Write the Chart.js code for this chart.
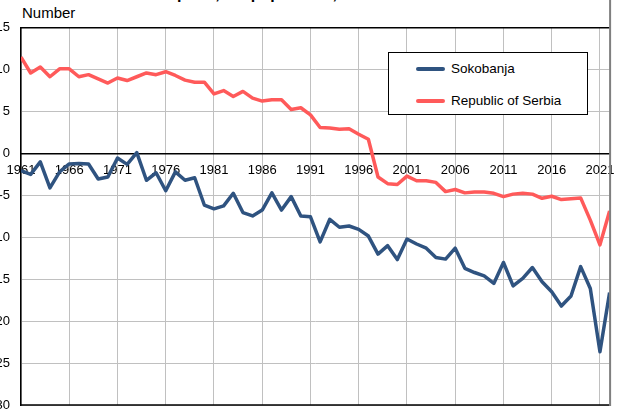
<!DOCTYPE html>
<html>
<head>
<meta charset="utf-8">
<script src="https://cdn.jsdelivr.net/npm/chart.js@4/dist/chart.umd.min.js"></script>
<style>
  html, body { margin:0; padding:0; background:#fff; width:619px; height:410px; overflow:hidden; position:relative; font-family:"Liberation Sans", Arial, sans-serif; }
  #c { position:absolute; left:-30px; top:0; }
  #title { position:absolute; left:48px; top:-14px; font-weight:bold; font-size:16px; line-height:16px; white-space:nowrap; color:#000; }
  #unit { position:absolute; left:22px; top:4.5px; font-size:15px; line-height:15px; color:#000; }
  #legend { position:absolute; left:388px; top:52px; width:200px; height:63px; border:1px solid #000; background:#fff; box-sizing:border-box; }
  .row { position:absolute; left:0; height:16px; line-height:16px; font-size:13.5px; color:#000; white-space:nowrap; }
  .sw { position:absolute; left:27px; top:6px; width:29px; height:4px; border-radius:2px; }
  .lt { position:absolute; left:62px; top:0; }
</style>
</head>
<body>
<div id="title">Natural increase per 1,000 population, 1961–2022</div>
<div id="unit">Number</div>
<canvas id="c" width="649" height="420" style="width:649px;height:420px"></canvas>
<div id="legend">
  <div class="row" style="top:8px"><span class="sw" style="background:#2f5380"></span><span class="lt">Sokobanja</span></div>
  <div class="row" style="top:40px"><span class="sw" style="background:#ff5a5a"></span><span class="lt">Republic of Serbia</span></div>
</div>
<script>
const years = [1961,1962,1963,1964,1965,1966,1967,1968,1969,1970,
  1971,1972,1973,1974,1975,1976,1977,1978,1979,1980,
  1981,1982,1983,1984,1985,1986,1987,1988,1989,1990,
  1991,1992,1993,1994,1995,1996,1997,1998,1999,2000,
  2001,2002,2003,2004,2005,2006,2007,2008,2009,2010,
  2011,2012,2013,2014,2015,2016,2017,2018,2019,2020,
  2021,2022];

const sokobanja = [-2.05,-2.5,-1.0,-4.1,-2.2,-1.25,-1.2,-1.25,-3.05,-2.8,
  -0.55,-1.3,0.1,-3.2,-2.3,-4.45,-2.2,-3.2,-2.9,-6.15,
  -6.6,-6.25,-4.75,-7.05,-7.45,-6.75,-4.7,-6.75,-5.15,-7.45,
  -7.55,-10.55,-7.85,-8.8,-8.65,-9.05,-9.85,-12.0,-11.0,-12.65,
  -10.2,-10.8,-11.3,-12.4,-12.6,-11.3,-13.7,-14.2,-14.6,-15.5,
  -13.0,-15.8,-14.9,-13.6,-15.3,-16.5,-18.2,-17.0,-13.5,-16.1,
  -23.65,-16.6];

const serbia = [11.5,9.6,10.3,9.15,10.1,10.1,9.15,9.4,8.9,8.4,
  9.0,8.7,9.15,9.6,9.4,9.75,9.3,8.75,8.5,8.5,
  7.1,7.5,6.8,7.4,6.6,6.25,6.4,6.4,5.25,5.45,
  4.6,3.1,3.05,2.9,2.95,2.3,1.7,-2.8,-3.6,-3.7,
  -2.7,-3.25,-3.25,-3.45,-4.55,-4.3,-4.7,-4.6,-4.6,-4.75,
  -5.15,-4.85,-4.75,-4.85,-5.35,-5.1,-5.5,-5.4,-5.3,-7.95,
  -10.9,-6.85];

const xTicks = [1961,1966,1971,1976,1981,1986,1991,1996,2001,2006,2011,2016,2021];
const yMin = -30, yMax = 15, yStep = 5;

const toPts = arr => arr.map((v,i) => ({x: years[i], y: v}));

const frame = {
  id: 'frame',
  beforeDatasetsDraw(chart) {
    const {ctx, chartArea: a} = chart;
    ctx.save();
    ctx.strokeStyle = '#000';
    ctx.lineWidth = 1.5;
    ctx.beginPath();
    ctx.moveTo(a.left, a.top); ctx.lineTo(a.right, a.top);
    ctx.moveTo(a.left, a.bottom); ctx.lineTo(a.right, a.bottom);
    ctx.stroke();
    ctx.restore();
  },
  afterDraw(chart) {
    const {ctx, chartArea: a} = chart;
    ctx.save();
    ctx.strokeStyle = '#7f7f7f';
    ctx.lineWidth = 2;
    ctx.beginPath();
    ctx.moveTo(a.right + 0.5, 0); ctx.lineTo(a.right + 0.5, a.bottom + 1);
    ctx.stroke();
    ctx.restore();
  }
};

new Chart(document.getElementById('c'), {
  type: 'line',
  data: {
    datasets: [
      { label: 'Sokobanja', data: toPts(sokobanja), borderColor: '#2f5380', borderWidth: 3.5, pointRadius: 0, tension: 0, borderJoinStyle: 'round' },
      { label: 'Republic of Serbia', data: toPts(serbia), borderColor: '#ff5a5a', borderWidth: 3.5, pointRadius: 0, tension: 0, borderJoinStyle: 'round' }
    ]
  },
  options: {
    responsive: false,
    animation: false,
    devicePixelRatio: 1,
    layout: { padding: { top: 27.7, right: 9.4, bottom: 15, left: 0 } },
    plugins: { legend: { display: false }, tooltip: { enabled: false }, title: { display: false } },
    scales: {
      x: {
        type: 'linear',
        min: 1961, max: 2022,
        position: { y: 0 },
        afterBuildTicks: s => { s.ticks = xTicks.map(v => ({ value: v })); },
        afterFit: s => { s.height = 0; s.paddingLeft = 0; s.paddingRight = 0; s.paddingTop = 0; s.paddingBottom = 0; },
        grid: { color: '#c0c0c0', lineWidth: 1, drawTicks: false },
        border: { color: '#000', width: 1.5 },
        ticks: { color: '#000', font: { family: 'Liberation Sans', size: 13 }, padding: 9, maxRotation: 0, autoSkip: false, callback: v => String(v) }
      },
      y: {
        min: yMin, max: yMax,
        afterFit: s => { s.width = 51; s.paddingTop = 0; s.paddingBottom = 0; },
        grid: { color: '#c0c0c0', lineWidth: 1, drawTicks: false },
        border: { color: '#000', width: 1.5 },
        ticks: { stepSize: yStep, color: '#000', font: { family: 'Liberation Sans', size: 13 }, padding: 11 }
      }
    }
  },
  plugins: [frame]
});
</script>
</body>
</html>
